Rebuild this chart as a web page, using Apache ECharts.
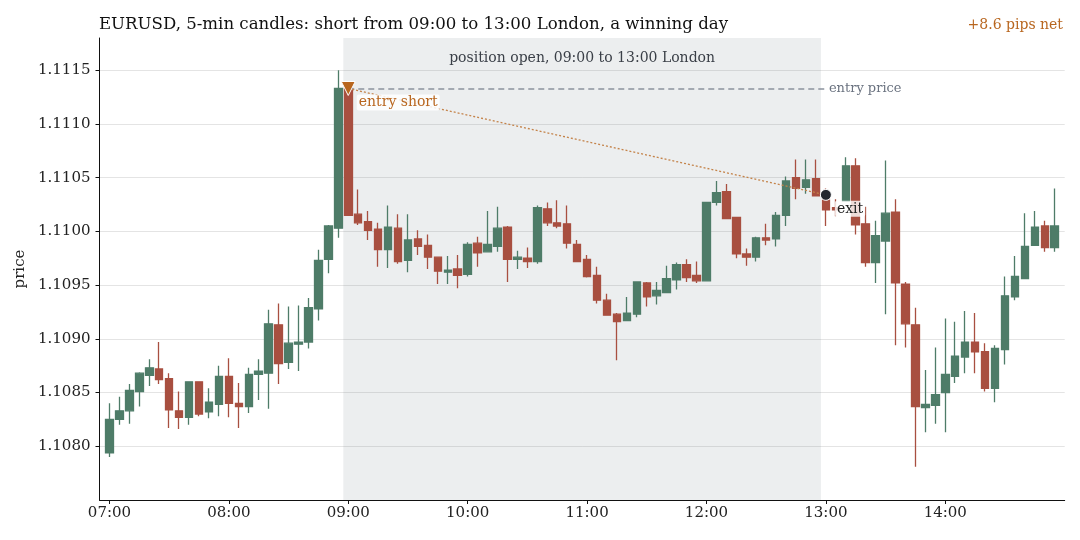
<!DOCTYPE html>
<html lang="en">
<head>
  <meta charset="utf-8">
  <title>EURUSD 5-min candles</title>
  <script src="https://cdn.jsdelivr.net/npm/echarts@6/dist/echarts.min.js"></script>
  <style>
    html, body { margin: 0; padding: 0; background: #fff; }
    #chart { width: 1080px; height: 540px; }
  </style>
</head>
<body>
<div id="chart"></div>
<script type="text/javascript">
// 5-min bars, 07:00 to 14:55 London
var times = ['07:00','07:05','07:10','07:15','07:20','07:25','07:30','07:35','07:40','07:45','07:50','07:55',
  '08:00','08:05','08:10','08:15','08:20','08:25','08:30','08:35','08:40','08:45','08:50','08:55',
  '09:00','09:05','09:10','09:15','09:20','09:25','09:30','09:35','09:40','09:45','09:50','09:55',
  '10:00','10:05','10:10','10:15','10:20','10:25','10:30','10:35','10:40','10:45','10:50','10:55',
  '11:00','11:05','11:10','11:15','11:20','11:25','11:30','11:35','11:40','11:45','11:50','11:55',
  '12:00','12:05','12:10','12:15','12:20','12:25','12:30','12:35','12:40','12:45','12:50','12:55',
  '13:00','13:05','13:10','13:15','13:20','13:25','13:30','13:35','13:40','13:45','13:50','13:55',
  '14:00','14:05','14:10','14:15','14:20','14:25','14:30','14:35','14:40','14:45','14:50','14:55'];

var opens = [1.10794,1.10825,1.10833,1.10851,1.10866,1.10872,1.10863,1.10833,1.10827,1.10860,1.10832,1.10839,
  1.10865,1.10840,1.10837,1.10867,1.10868,1.10913,1.10878,1.10895,1.10897,1.10928,1.10974,1.11003,
  1.11133,1.11016,1.11009,1.11002,1.10983,1.11003,1.10973,1.10993,1.10987,1.10976,1.10962,1.10965,
  1.10960,1.10989,1.10981,1.10986,1.11004,1.10974,1.10975,1.10972,1.11021,1.11008,1.11007,1.10988,
  1.10974,1.10959,1.10936,1.10923,1.10917,1.10923,1.10952,1.10940,1.10943,1.10955,1.10969,1.10959,
  1.10954,1.11027,1.11037,1.11013,1.10979,1.10976,1.10994,1.10993,1.11015,1.11050,1.11041,1.11049,
  1.11029,1.11022,1.11028,1.11061,1.11007,1.10971,1.10991,1.11018,1.10951,1.10913,1.10836,1.10838,
  1.10850,1.10865,1.10883,1.10897,1.10888,1.10854,1.10890,1.10939,1.10956,1.10987,1.11005,1.10985];

var closes = [1.10825,1.10833,1.10852,1.10868,1.10873,1.10862,1.10834,1.10827,1.10860,1.10830,1.10841,1.10865,
  1.10840,1.10837,1.10867,1.10870,1.10914,1.10877,1.10896,1.10897,1.10929,1.10973,1.11005,1.11133,
  1.11015,1.11008,1.11001,1.10983,1.11004,1.10972,1.10992,1.10986,1.10976,1.10963,1.10964,1.10959,
  1.10988,1.10980,1.10988,1.11003,1.10974,1.10976,1.10972,1.11022,1.11008,1.11005,1.10989,1.10972,
  1.10958,1.10936,1.10922,1.10916,1.10924,1.10953,1.10939,1.10945,1.10956,1.10969,1.10957,1.10954,
  1.11027,1.11036,1.11012,1.10979,1.10976,1.10994,1.10992,1.11015,1.11047,1.11040,1.11048,1.11033,
  1.11020,1.11020,1.11061,1.11006,1.10971,1.10996,1.11017,1.10952,1.10914,1.10837,1.10839,1.10848,
  1.10867,1.10884,1.10897,1.10888,1.10854,1.10891,1.10940,1.10958,1.10986,1.11004,1.10985,1.11005];

var lows = [1.10790,1.10820,1.10821,1.10837,1.10856,1.10858,1.10817,1.10816,1.10820,1.10828,1.10826,1.10828,
  1.10827,1.10817,1.10831,1.10843,1.10835,1.10858,1.10872,1.10870,1.10891,1.10917,1.10961,1.10994,
  1.11015,1.11006,1.10992,1.10967,1.10966,1.10970,1.10962,1.10978,1.10965,1.10951,1.10951,1.10947,
  1.10958,1.10967,1.10981,1.10981,1.10953,1.10965,1.10966,1.10970,1.11005,1.11003,1.10984,1.10972,
  1.10957,1.10933,1.10922,1.10880,1.10917,1.10920,1.10930,1.10932,1.10943,1.10946,1.10953,1.10952,
  1.10954,1.11024,1.11012,1.10975,1.10968,1.10972,1.10987,1.10986,1.11005,1.11030,1.11035,1.11033,
  1.11005,1.11014,1.11028,1.10997,1.10967,1.10952,1.10923,1.10894,1.10892,1.10781,1.10813,1.10821,
  1.10813,1.10859,1.10868,1.10868,1.10851,1.10841,1.10876,1.10936,1.10956,1.10987,1.10981,1.10981];

var highs = [1.10840,1.10846,1.10858,1.10869,1.10881,1.10897,1.10868,1.10851,1.10860,1.10860,1.10854,1.10875,
  1.10882,1.10859,1.10873,1.10881,1.10927,1.10933,1.10930,1.10931,1.10938,1.10983,1.11006,1.11150,
  1.11136,1.11039,1.11019,1.11008,1.11024,1.11016,1.11016,1.11001,1.10997,1.10976,1.10977,1.10978,
  1.10990,1.10995,1.11019,1.11023,1.11005,1.10982,1.10985,1.11024,1.11027,1.11029,1.11024,1.10992,
  1.10978,1.10967,1.10942,1.10924,1.10939,1.10953,1.10953,1.10953,1.10968,1.10971,1.10974,1.10972,
  1.11027,1.11047,1.11044,1.11013,1.10984,1.10995,1.11007,1.11018,1.11051,1.11067,1.11067,1.11067,
  1.11040,1.11030,1.11069,1.11068,1.11023,1.11010,1.11066,1.11030,1.10953,1.10929,1.10871,1.10892,
  1.10919,1.10916,1.10926,1.10924,1.10896,1.10894,1.10958,1.10977,1.11017,1.11019,1.11010,1.11040];

// trade
var entryTime = '09:00', exitTime = '13:00';
var entryPrice = 1.11133, exitPrice = 1.11034;
var sessionStart = '09:00', sessionEnd = '12:55';

// padding slots either side so the first/last bar sit off the spines
var cats = ['06:55'].concat(times, ['15:00']);
var candles = [[null, null, null, null]];
for (var i = 0; i < times.length; i++) {
  candles.push([opens[i], closes[i], lows[i], highs[i]]);
}
candles.push([null, null, null, null]);

var UP = '#4e7c68', DOWN = '#a84f40';
var FONT = 'DejaVu Serif';

function isHour(idx, val) {
  return idx > 0 && idx < cats.length - 1 && /:00$/.test(val);
}

var chart = echarts.init(document.getElementById('chart'));
var option = {
  animation: false,
  backgroundColor: '#ffffff',
  textStyle: { fontFamily: FONT },
  title: [
    {
      text: 'EURUSD, 5-min candles: short from 09:00 to 13:00 London, a winning day',
      left: 99, top: 16, padding: 0,
      textStyle: { fontFamily: FONT, fontSize: 16.6, fontWeight: 'normal', color: '#111' }
    },
    {
      text: '+8.6 pips net',
      right: 17, top: 18, padding: 0,
      textStyle: { fontFamily: FONT, fontSize: 14, fontWeight: 'normal', color: '#b8661f' }
    }
  ],
  grid: { left: 99.5, right: 15.3, top: 38, bottom: 40 },
  xAxis: [
    {
      type: 'category',
      data: cats,
      boundaryGap: false,
      axisLine: { lineStyle: { color: '#111', width: 1 } },
      axisTick: { interval: isHour, length: 4, lineStyle: { color: '#111' } },
      axisLabel: { interval: isHour, fontFamily: FONT, fontSize: 15, color: '#222', margin: 6 },
      splitLine: { show: false }
    },
    {
      // hidden slot-index axis, used only for the shaded session band
      type: 'value', min: 0, max: cats.length - 1, show: false
    }
  ],
  yAxis: {
    type: 'value',
    min: 1.1075,
    max: 1.1118,
    interval: 0.0005,
    name: 'price',
    nameLocation: 'middle',
    nameGap: 71,
    nameRotate: 90,
    nameTextStyle: { fontFamily: FONT, fontSize: 15, color: '#222' },
    axisLine: { show: true, lineStyle: { color: '#111', width: 1 } },
    axisTick: { show: true, length: 4, lineStyle: { color: '#111' } },
    axisLabel: {
      fontFamily: FONT, fontSize: 15, color: '#222', margin: 9,
      showMinLabel: false, showMaxLabel: false,
      formatter: function (v) { return v.toFixed(4); }
    },
    splitLine: { showMaxLine: false, lineStyle: { color: '#e4e4e4', width: 1 } }
  },
  series: [
    {
      type: 'line',
      xAxisIndex: 1,
      data: [],
      silent: true,
      markArea: {
        silent: true,
        itemStyle: { color: 'rgba(110,120,135,0.13)' },
        label: {
          show: true, position: 'insideTop', distance: 13,
          fontFamily: FONT, fontSize: 14, color: '#3a3f47'
        },
        data: [[
          { name: 'position open, 09:00 to 13:00 London', xAxis: cats.indexOf(sessionStart) - 0.5 },
          { xAxis: cats.indexOf(sessionEnd) + 0.5 }
        ]]
      }
    },
    {
      type: 'candlestick',
      data: candles,
      barWidth: 8,
      clip: false,
      itemStyle: {
        color: UP, color0: DOWN,
        borderColor: UP, borderColor0: DOWN,
        borderWidth: 1.3
      },
      markLine: {
        silent: true,
        symbol: ['none', 'none'],
        data: [
          [
            { coord: [entryTime, entryPrice], lineStyle: { type: [6, 4], color: '#8b929d', width: 1.5 } },
            { coord: [exitTime, entryPrice],
              label: { show: true, position: 'end', formatter: 'entry price', distance: 3,
                       fontFamily: FONT, fontSize: 13, color: '#6b7380' } }
          ],
          [
            { coord: [entryTime, entryPrice], lineStyle: { type: [2, 2], color: '#c4834a', width: 1.3 } },
            { coord: [exitTime, exitPrice], label: { show: false } }
          ]
        ]
      },
      markPoint: {
        silent: true,
        data: [
          {
            coord: [entryTime, entryPrice],
            symbol: 'triangle', symbolRotate: 180, symbolSize: [14, 14],
            itemStyle: { color: '#b8661f', borderColor: '#fff', borderWidth: 1 },
            label: {
              show: true, position: 'right', distance: 1, offset: [0, 14],
              formatter: 'entry short',
              fontFamily: FONT, fontSize: 14, color: '#b8661f',
              backgroundColor: 'rgba(255,255,255,0.85)', padding: [1, 2], borderRadius: 2
            }
          },
          {
            coord: [exitTime, exitPrice],
            symbol: 'circle', symbolSize: 11,
            itemStyle: { color: '#23272e', borderColor: '#fff', borderWidth: 1 },
            label: {
              show: true, position: 'right', distance: 3, offset: [0, 14],
              formatter: 'exit',
              fontFamily: FONT, fontSize: 14, color: '#222',
              backgroundColor: 'rgba(255,255,255,0.8)', padding: [1, 2], borderRadius: 2
            }
          }
        ]
      }
    }
  ]
};
chart.setOption(option);
</script>
</body>
</html>
